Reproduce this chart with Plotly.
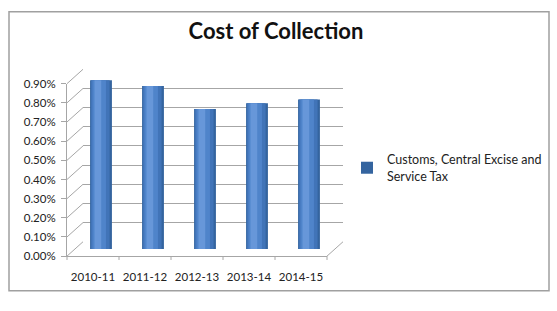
import plotly.graph_objects as go

# ---- data ----
categories = ["2010-11", "2011-12", "2012-13", "2013-14", "2014-15"]
values = [0.88, 0.85, 0.73, 0.76, 0.78]  # percent
series_name = "Customs, Central Excise and<br>Service Tax"
tick_vals = [0.0, 0.1, 0.2, 0.3, 0.4, 0.5, 0.6, 0.7, 0.8, 0.9]
tick_text = ["%.2f%%" % v for v in tick_vals]

W, H = 557, 311
GRID = "#A6A6A6"
FONT = "Lato"

def px_x(p):
    return p / W

def px_y(p):
    return 1 - p / H

# front (main) plot box, back wall box and mid-depth box in pixels
front = dict(x0=67, x1=327, y0=80, y1=260)
dx, dy = 16, 15
back = dict(x0=front["x0"] + dx, x1=front["x1"] + dx, y0=front["y0"] - dy, y1=front["y1"] - dy)
mid = dict(x0=front["x0"] + dx / 2, x1=front["x1"] + dx / 2, y0=front["y0"] - dy / 2, y1=front["y1"] - dy / 2)

def dom(b):
    return [px_x(b["x0"]), px_x(b["x1"])], [px_y(b["y1"]), px_y(b["y0"])]

fx, fy = dom(front)
bx, by = dom(back)
mx, my = dom(mid)

yr = [0, 0.9]
xr = [-0.5, 4.5]
idx = list(range(len(categories)))

fig = go.Figure()

# invisible traces so that the front and back axes are drawn
fig.add_trace(go.Scatter(x=idx, y=values, xaxis="x", yaxis="y", mode="markers",
                         marker=dict(opacity=0), showlegend=False, hoverinfo="skip"))
fig.add_trace(go.Scatter(x=idx, y=values, xaxis="x2", yaxis="y2", mode="markers",
                         marker=dict(opacity=0), showlegend=False, hoverinfo="skip"))

# cylinder-like bars: layered bars on the mid-depth axes
layers = [
    (0.42, 0.0, "#34649F", True),
    (0.36, -0.015, "#4174B8", False),
    (0.26, -0.035, "#4F84CA", False),
    (0.13, -0.06, "#6797D9", False),
]
for w, shift, col, show in layers:
    fig.add_trace(go.Bar(
        x=[i + shift for i in idx], y=values, width=w,
        marker=dict(color=col, line=dict(width=0)),
        name=series_name, showlegend=show,
        xaxis="x3", yaxis="y3", hoverinfo="skip",
    ))

layout_axes = dict(
    xaxis=dict(domain=fx, range=xr, tickmode="array", tickvals=idx,
               ticktext=categories, showgrid=False, zeroline=False, showline=True,
               linecolor=GRID, ticks="", ticklabelstandoff=10,
               tickfont=dict(family=FONT, size=11.5, color="#222"), anchor="y"),
    yaxis=dict(domain=fy, range=yr, tickmode="array", tickvals=tick_vals, ticktext=tick_text,
               showgrid=False, zeroline=False, showline=True, linecolor=GRID,
               ticks="outside", ticklen=5, tickcolor=GRID, ticklabelstandoff=3,
               tickfont=dict(family=FONT, size=11.5, color="#222"), anchor="x"),
    xaxis2=dict(domain=bx, range=xr, showgrid=False, zeroline=False,
                showticklabels=False, showline=False, anchor="y2"),
    yaxis2=dict(domain=by, range=yr, tickmode="array", tickvals=tick_vals, showgrid=True,
                gridcolor=GRID, gridwidth=1, zeroline=False, showticklabels=False,
                showline=False, anchor="x2"),
    xaxis3=dict(domain=mx, range=xr, showgrid=False, zeroline=False, showticklabels=False,
                showline=False, anchor="y3"),
    yaxis3=dict(domain=my, range=yr, showgrid=False, zeroline=False, showticklabels=False,
                showline=False, anchor="x3"),
)

shapes = []
# side-wall diagonals from front axis ticks to back wall
span = front["y1"] - front["y0"]
for v in tick_vals:
    yf = front["y1"] - v / yr[1] * span
    shapes.append(dict(type="line", xref="paper", yref="paper",
                       x0=px_x(front["x0"]), y0=px_y(yf),
                       x1=px_x(back["x0"]), y1=px_y(yf - dy),
                       line=dict(color=GRID, width=1), layer="below"))
# floor right edge
shapes.append(dict(type="line", xref="paper", yref="paper",
                   x0=px_x(front["x1"]), y0=px_y(front["y1"]),
                   x1=px_x(back["x1"]), y1=px_y(back["y1"]),
                   line=dict(color=GRID, width=1), layer="below"))
# category boundary tick marks on the floor front edge
n = len(categories)
for k in range(n + 1):
    xp = front["x0"] + k * (front["x1"] - front["x0"]) / n
    shapes.append(dict(type="line", xref="paper", yref="paper",
                       x0=px_x(xp), y0=px_y(front["y1"]), x1=px_x(xp), y1=px_y(front["y1"] + 4),
                       line=dict(color=GRID, width=1)))
# outer chart border
shapes.append(dict(type="rect", xref="paper", yref="paper",
                   x0=px_x(9), x1=px_x(549), y0=px_y(296), y1=px_y(5),
                   line=dict(color="#A0A0A0", width=1.5), fillcolor="rgba(0,0,0,0)"))

fig.update_layout(
    width=W, height=H,
    margin=dict(l=0, r=0, t=0, b=0),
    paper_bgcolor="white", plot_bgcolor="rgba(0,0,0,0)",
    barmode="overlay",
    title=dict(text="<b>Cost of Collection</b>", x=px_x(276), xanchor="center",
               y=px_y(31), yanchor="middle",
               font=dict(family=FONT, size=22, color="#111")),
    legend=dict(x=px_x(347), y=px_y(144), xanchor="left", yanchor="top",
                font=dict(family=FONT, size=12.5, color="#222"),
                itemwidth=30, tracegroupgap=0, bgcolor="rgba(0,0,0,0)"),
    shapes=shapes,
    showlegend=True,
    **layout_axes,
)

fig.write_html("out.html")
